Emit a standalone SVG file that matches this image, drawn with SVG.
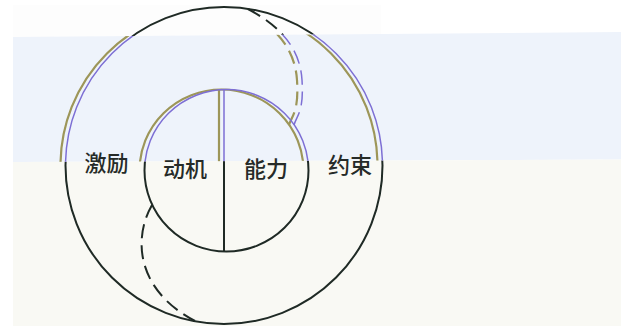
<svg xmlns="http://www.w3.org/2000/svg" xmlns:xlink="http://www.w3.org/1999/xlink" width="621" height="326" viewBox="0 0 621 326">
<style>
.lbl{font-family:"Noto Sans CJK SC","Noto Sans CJK TC",sans-serif;font-size:22px;font-weight:500;fill:#262b28;text-anchor:middle}
.ink{fill:none;stroke:#1f2a25;stroke-width:2}
.pur{fill:none;stroke:#7d6fd4;stroke-width:1.5}
.olv{fill:none;stroke:#9d9659;stroke-width:2.2}
</style>
<defs>
<clipPath id="band"><polygon points="13,37 621,32 621,159.5 13,162"/></clipPath>
<clipPath id="outside"><path clip-rule="evenodd" d="M0,0H621V326H0Z M13,37L13,162L621,159.5L621,32Z"/></clipPath>
</defs>
<g id="background">
<rect width="621" height="326" fill="#ffffff"/>
<rect x="13" y="5" width="368" height="32" fill="#fdfdfd"/>
<polygon points="13,37 621,32 621,159.5 13,162" fill="#eef3fb"/>
<polygon points="13,162 621,159.5 621,326 13,326" fill="#f9f9f4"/>
</g>
<g id="diagram" class="ink" clip-path="url(#outside)">
<g id="shapes">
<circle id="outer-ring" cx="224" cy="165.5" r="158.5"/>
<ellipse id="inner-ring" cx="226.5" cy="170.5" rx="82" ry="81"/>
<line id="divider" x1="224" y1="89.5" x2="224" y2="251.5"/>
</g>
<g id="connectors">
<path id="link-top" d="M248,9 C280,26 300,48 302,80 S297,115 294,125" stroke-dasharray="14 7"/>
<path id="link-bottom" d="M152,205 C133,238 136,290 195,321" stroke-dasharray="14 7"/>
</g>
</g>
<g id="scan-band-lines" clip-path="url(#band)">
<g class="olv" transform="translate(-5,0)">
<use href="#outer-ring" xlink:href="#outer-ring"/>
<use href="#inner-ring" xlink:href="#inner-ring"/>
<use href="#divider" xlink:href="#divider"/>
<use href="#link-top" xlink:href="#link-top"/>
</g>
<g class="pur">
<use href="#outer-ring" xlink:href="#outer-ring"/>
<use href="#inner-ring" xlink:href="#inner-ring"/>
<use href="#divider" xlink:href="#divider"/>
<use href="#link-top" xlink:href="#link-top"/>
</g>
</g>
<g id="node-jili"><text class="lbl" x="106.5" y="170.5">激励</text></g>
<g id="node-dongji"><text class="lbl" x="185" y="176.5">动机</text></g>
<g id="node-nengli"><text class="lbl" x="266" y="176.5">能力</text></g>
<g id="node-yueshu"><text class="lbl" x="350" y="172.5">约束</text></g>
</svg>
